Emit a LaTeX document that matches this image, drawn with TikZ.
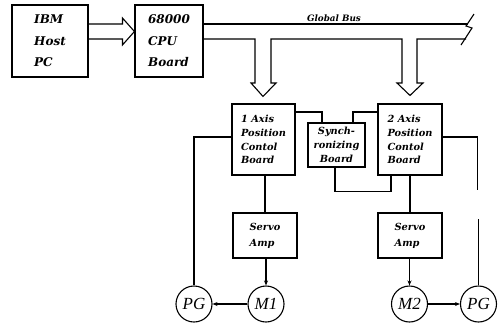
\documentclass[tikz,border=0pt]{standalone}
\usepackage{fontspec}
\setmainfont{Liberation Serif}
\newfontfamily\boxfont{DejaVu Serif}
\usetikzlibrary{arrows.meta,calc}
\begin{document}
\begin{tikzpicture}[x=1pt,y=-1pt,
  ln/.style={line width=1.1pt},
  bigbox/.style={draw,ln,inner sep=0pt,align=left,
    font=\boxfont\bfseries\itshape\fontsize{12}{21.5}\selectfont},
  brdbox/.style={draw,ln,inner sep=0pt,align=left,
    font=\boxfont\bfseries\itshape\fontsize{9.8}{13.8}\selectfont},
  ampbox/.style={brdbox,font=\boxfont\bfseries\itshape\fontsize{9.8}{16}\selectfont},
  motor/.style={draw,ln,circle,minimum size=36pt,inner sep=0pt,
    font=\itshape\fontsize{17}{17}\selectfont},
  arr/.style={ln,-{Stealth[length=5pt,width=4pt]}},
  hollow/.style={ln,line join=miter}]
\useasboundingbox (0,0) rectangle (501,333);

% boxes
\node[bigbox,minimum width=76pt,minimum height=72pt] (ibm) at (50,41) {IBM\\Host\\PC};
\node[bigbox,minimum width=68pt,minimum height=72pt] (cpu) at (169,41) {68000\\CPU\\Board};
\node[brdbox,minimum width=63pt,minimum height=71pt] (ax1) at (263.5,139.5) {1 Axis\\Position\\Contol\\Board};
\node[brdbox,minimum width=57pt,minimum height=44pt,align=center] (sync) at (336.5,145) {Synch-\\ronizing\\Board};
\node[brdbox,minimum width=64pt,minimum height=71pt] (ax2) at (410,139.5) {2 Axis\\Position\\Contol\\Board};
\node[ampbox,minimum width=64pt,minimum height=45pt] (sv1) at (265,235.5) {Servo\\Amp};
\node[ampbox,minimum width=64pt,minimum height=45pt] (sv2) at (410,235.5) {Servo\\Amp};

% motors and pulse generators
\node[motor] (pg1) at (194,304) {PG};
\node[motor] (m1) at (266,304) {M1};
\node[motor] (m2) at (409.5,304) {M2};
\node[motor] (pg2) at (478.5,304) {PG};

% hollow arrow IBM -> CPU
\draw[hollow] ($(ibm.east)+(0,-17)$) -- ($(cpu.west)+(-12,-17)$) -- ($(cpu.west)+(-12,-23)$)
  -- ($(cpu.west)+(0,-9.5)$) -- ($(cpu.west)+(-12,4)$) -- ($(cpu.west)+(-12,-2)$) -- ($(ibm.east)+(0,-2)$);

% global bus
\coordinate (busend) at (468,24);
\draw[ln] ($(cpu.east)+(0,-17)$) -- (busend);
\draw[hollow] ($(cpu.east)+(0,-2)$) -- (255,39) -- (255,83) -- (251,83) -- ($(ax1.north)+(-0.5,-7)$)
  -- (276,83) -- (271,83) -- (271,39) -- (402,39) -- (402,83) -- (397,83) -- ($(ax2.north)+(0,-8)$)
  -- (423,83) -- (417,83) -- (417,39) -- (466,39);
\draw[ln,line join=miter] (474,14) -- (466,26) -- (472,28) -- (461,45);
\node[font=\boxfont\bfseries\itshape\fontsize{8.8}{8.8}\selectfont] (gbus) at (334,18) {Global Bus};

% board interconnections
\draw[ln] ($(ax1.east)+(0,-27.5)$) -| ($(sync.north)+(-14.5,0)$);
\draw[ln] ($(ax2.west)+(0,-27.5)$) -| ($(sync.north)+(16.5,0)$);
\draw[ln] ($(sync.south)+(-1.5,0)$) |- ($(ax2.south)+(-19,15.5)$) -- ($(ax2.south)+(-19,0)$);

% board -> servo amp -> motor
\draw[ln] (sv1.north |- ax1.south) -- (sv1.north);
\draw[ln] (sv2.north |- ax2.south) -- (sv2.north);
\draw[arr] (m1.north |- sv1.south) -- (m1.north);
\draw[arr] (m2.north |- sv2.south) -- (m2.north);

% motors -> pulse generators
\draw[arr] (m1.west) -- (pg1.east);
\draw[arr] (m2.east) -- (pg2.west);

% feedback lines
\draw[ln] ($(ax1.west)+(0,-2.5)$) -| (pg1.north);
\coordinate (fbgap) at (477.5,190);
\draw[ln] ($(ax2.east)+(0,-2.5)$) -| (fbgap);
\draw[ln] (pg2.north |- 0,219) -- (pg2.north);
\end{tikzpicture}
\end{document}
